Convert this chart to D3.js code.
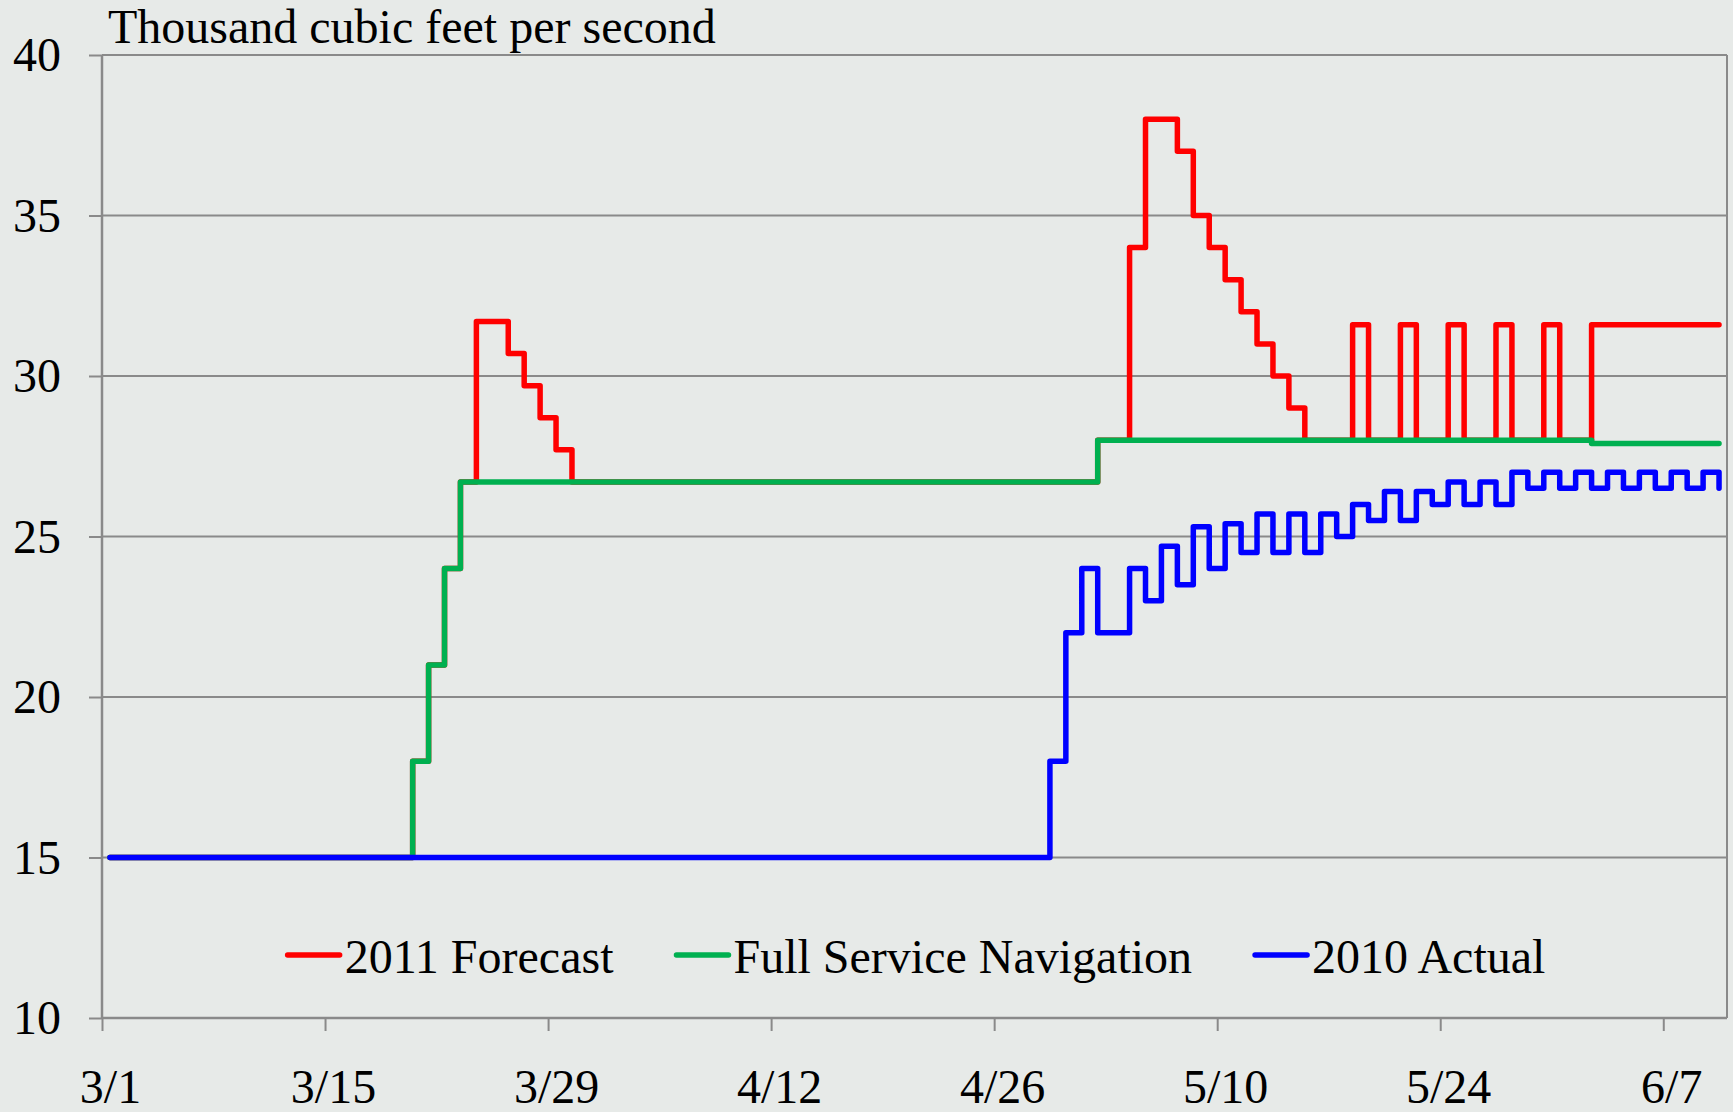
<!DOCTYPE html>
<html lang="en">
<head>
  <meta charset="UTF-8">
  <title>Thousand cubic feet per second</title>
  <script src="https://d3js.org/d3.v7.min.js"></script>
  <style>
    html, body { margin: 0; padding: 0; background: #e7eae8; }
    text { font-family: "Times New Roman", "Liberation Serif", serif; fill: #000; }
  </style>
</head>
<body>

<div id="chart"></div>

<script>
  // axis settings
  const startDate = new Date(Date.UTC(2011, 2, 1));
  const endDate = new Date(Date.UTC(2011, 5, 11));
  const lastDay = 101;                 // last plotted day, counted from 3/1
  const tickDays = [0, 14, 28, 42, 56, 70, 84, 98];
  const yTicks = [10, 15, 20, 25, 30, 35, 40];
  const seriesNames = ["2011 Forecast", "Full Service Navigation", "2010 Actual"];

  // step changes: day (from 3/1) where a new value starts, and that value
  const forecastDays = [0, 19, 20, 21, 22, 23, 25, 26, 27, 28, 29,
    62, 64, 65, 67, 68, 69, 70, 71, 72, 73, 74, 75,
    78, 79, 81, 82, 84, 85, 87, 88, 90, 91, 93];
  const forecastValues = [15, 18, 21, 24, 26.7, 31.7, 30.7, 29.7, 28.7, 27.7, 26.7,
    28, 34, 38, 37, 35, 34, 33, 32, 31, 30, 29, 28,
    31.6, 28, 31.6, 28, 31.6, 28, 31.6, 28, 31.6, 28, 31.6];

  const navDays = [0, 19, 20, 21, 22, 62, 93];
  const navValues = [15, 18, 21, 24, 26.7, 28, 27.9];

  const actualDays = [0, 59, 60, 61, 62, 64, 65, 66, 67, 68, 69, 70, 71, 72, 73,
    74, 75, 76, 77, 78, 79, 80, 81, 82, 83, 84, 85, 86, 87, 88, 89, 90, 91, 92,
    93, 94, 95, 96, 97, 98, 99, 100, 101];
  const actualValues = [15, 18, 22, 24, 22, 24, 23, 24.7, 23.5, 25.3, 24, 25.4, 24.5, 25.7, 24.5,
    25.7, 24.5, 25.7, 25, 26, 25.5, 26.4, 25.5, 26.4, 26, 26.7, 26, 26.7, 26, 27, 26.5, 27, 26.5, 27,
    26.5, 27, 26.5, 27, 26.5, 27, 26.5, 27, 26.5];

  const colors = ["#ff0000", "#00b050", "#0000ff"];

  const width = 1733;
  const height = 1112;
  const margin = {top: 55, right: 6, bottom: 94, left: 102};

  const svg = d3.select("#chart")
          .append("svg")
          .attr("width", width)
          .attr("height", height);

  svg.append("rect")
          .attr("width", width)
          .attr("height", height)
          .attr("fill", "#e7eae8");

  const x = d3.scaleUtc()
          .domain([startDate, endDate])
          .range([margin.left, width - margin.right]);

  const y = d3.scaleLinear()
          .domain([10, 40])
          .range([height - margin.bottom, margin.top]);

  const dayDate = d => d3.utcDay.offset(startDate, d);
  // points sit in the middle of each day
  const dayMid = d => d3.utcHour.offset(dayDate(d), 12);
  const halfDay = x(dayMid(0)) - x(startDate);

  // horizontal grid lines
  svg.append("g")
          .selectAll("line")
          .data(yTicks)
          .enter()
          .append("line")
          .attr("x1", margin.left)
          .attr("x2", width - margin.right)
          .attr("y1", d => y(d))
          .attr("y2", d => y(d))
          .attr("stroke", "#8a8a8a")
          .attr("stroke-width", 2);

  // plot area right edge
  svg.append("line")
          .attr("x1", width - margin.right)
          .attr("x2", width - margin.right)
          .attr("y1", margin.top)
          .attr("y2", height - margin.bottom)
          .attr("stroke", "#8a8a8a")
          .attr("stroke-width", 2);

  // y axis
  const yAxis = svg.append("g")
          .attr("transform", "translate(" + margin.left + ",0)")
          .call(d3.axisLeft(y).tickValues(yTicks).tickSize(13).tickPadding(28).tickFormat(d3.format("d")));
  yAxis.selectAll("text")
          .style("font-size", "48px")
          .attr("dy", "0.33em");

  // x axis, labels centred on the day
  const xAxis = svg.append("g")
          .attr("transform", "translate(0," + (height - margin.bottom) + ")")
          .call(d3.axisBottom(x).tickValues(tickDays.map(dayDate)).tickSize(13).tickFormat(d3.utcFormat("%-m/%-d")));
  xAxis.selectAll("text")
          .style("font-size", "48px")
          .attr("x", halfDay)
          .attr("y", 85)
          .attr("dy", 0);

  svg.selectAll(".domain, .tick line")
          .attr("stroke", "#8a8a8a")
          .attr("stroke-width", 2);
  svg.selectAll(".domain").attr("stroke-width", 2.5);
  xAxis.select(".domain").attr("d", "M" + margin.left + ",0H" + (width - margin.right));
  yAxis.select(".domain").attr("d", "M0," + y(10) + "V" + y(40));

  // build the step series
  function steps(days, values) {
    const pts = days.map((d, i) => ({date: dayMid(d), value: values[i]}));
    if (days[days.length - 1] < lastDay) {
      pts.push({date: dayMid(lastDay), value: values[values.length - 1]});
    }
    return pts;
  }

  const series = [
    steps(forecastDays, forecastValues),
    steps(navDays, navValues),
    steps(actualDays, actualValues)
  ];

  const line = d3.line()
          .curve(d3.curveStepAfter)
          .x(d => x(d.date))
          .y(d => y(d.value));

  svg.append("g")
          .selectAll("path")
          .data(series)
          .enter()
          .append("path")
          .attr("d", line)
          .attr("fill", "none")
          .attr("stroke", (_, i) => colors[i])
          .attr("stroke-width", 5.5)
          .attr("stroke-linejoin", "round")
          .attr("stroke-linecap", "round");

  // axis title
  svg.append("text")
          .attr("x", 108)
          .attr("y", 43)
          .style("font-size", "48px")
          .text("Thousand cubic feet per second");

  // legend, centred on the plot area
  const legend = svg.append("g");
  const items = legend.selectAll("g")
          .data(seriesNames)
          .enter()
          .append("g");
  items.append("line")
          .attr("x1", 0)
          .attr("x2", 52)
          .attr("y1", -18)
          .attr("y2", -18)
          .attr("stroke", (_, i) => colors[i])
          .attr("stroke-width", 5.5)
          .attr("stroke-linecap", "round");
  items.append("text")
          .attr("x", 57)
          .attr("y", 0)
          .style("font-size", "48px")
          .text(d => d);

  const gap = 63;
  let offset = 0;
  items.each(function() {
    const w = 57 + d3.select(this).select("text").node().getComputedTextLength();
    d3.select(this).attr("transform", "translate(" + offset + ",0)");
    offset += w + gap;
  });
  const legendWidth = offset - gap;
  const plotMid = (margin.left + width - margin.right) / 2;
  legend.attr("transform", "translate(" + (plotMid - legendWidth / 2 + 2) + ",973)");

</script>

</body>
</html>
